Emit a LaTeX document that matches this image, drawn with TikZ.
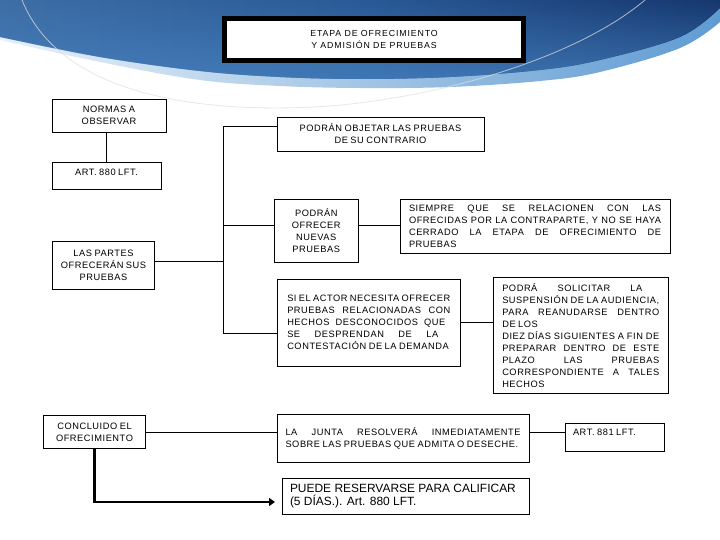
\documentclass[tikz,border=0pt]{standalone}
\usepackage{fontspec}
\setmainfont{Liberation Sans}
\newfontfamily\bodyfont[LetterSpace=6,WordSpace=0.8]{Liberation Sans}
\newfontfamily\titlefont[LetterSpace=10]{Liberation Sans}
\usetikzlibrary{arrows.meta,fadings}
\definecolor{swLeft}{RGB}{62,110,165}
\definecolor{swMid}{RGB}{42,90,150}
\definecolor{swRight}{RGB}{22,55,110}
\definecolor{swLow}{RGB}{72,132,195}
\definecolor{swBand}{RGB}{95,155,210}
\tikzset{
  box/.style={draw=black, line width=0.9bp, fill=white, inner sep=0pt, align=center,
    font=\bodyfont\fontsize{9.3}{12}\selectfont},
  titlebox/.style={draw=black, line width=5bp, fill=white, inner sep=0pt, align=center,
    font=\titlefont\fontsize{8.8}{11.7}\selectfont},
  bigbox/.style={draw=black, line width=0.9bp, fill=white, inner sep=0pt,
    font=\fontsize{12}{12.7}\selectfont},
  conn/.style={draw=black, line width=0.9bp},
  bigarrow/.style={draw=black, line width=2.6bp, -{Triangle[length=6bp,width=8bp]}},
  arcline/.style={draw=white!75!gray, line width=0.8bp, opacity=0.75}
}
\newcommand\jl[1]{\hbox to\hsize{#1}}
\newcommand\jw[2]{\hbox to #1{#2}}
\newcommand\lline[1]{\hbox to\hsize{#1\hfil}}
\newcommand\jbox[2]{\vbox{\hsize=#1\relax #2}}
\begin{document}
\begin{tikzpicture}[x=1bp,y=-1bp]
\useasboundingbox (0,0) rectangle (720,540);
\fill[white] (0,0) rectangle (720,540);
% swoosh: light band
\shade[left color=white!85!swBand, right color=swBand]
  (0,0) -- (720,0) -- plot[smooth,tension=0.6] coordinates {(720,22) (680,48) (600,72) (540,81) (450,87) (360,88) (280,86) (200,80) (100,62) (0,40)} -- cycle;
% swoosh: dark part
\shade[left color=swLeft, right color=swRight, middle color=swMid]
  (0,0) -- (720,0) -- plot[smooth,tension=0.6] coordinates {(720,8) (680,37) (600,60) (540,70) (450,77) (360,79) (280,77) (200,71) (100,57) (0,37)} -- cycle;
\fill[swLow, path fading=north, opacity=0.7]
  (0,0) -- (720,0) -- plot[smooth,tension=0.6] coordinates {(720,8) (680,37) (600,60) (540,70) (450,77) (360,79) (280,77) (200,71) (100,57) (0,37)} -- cycle;
\draw[arcline] (22,0) .. controls (60,95) and (200,115) .. (330,106) .. controls (450,96) and (580,55) .. (645,0);

% nodes
\node[titlebox, minimum width=299bp, minimum height=42bp] (title) at (374,39.5)
  {ETAPA DE OFRECIMIENTO\\Y ADMISIÓN DE PRUEBAS};
\node[box, minimum width=114bp, minimum height=33bp] (normas) at (109,115.5) {NORMAS A\\OBSERVAR};
\node[box, minimum width=109bp, minimum height=27bp] (art880) at (106.5,175.5) {\smash{ART. 880 LFT.}};
\node[box, minimum width=207bp, minimum height=34bp] (objetar) at (380.5,134)
  {PODRÁN OBJETAR LAS PRUEBAS\\DE SU CONTRARIO};
\node[box, minimum width=83.5bp, minimum height=63bp] (ofrecer) at (316.25,230.5)
  {PODRÁN\\OFRECER\\NUEVAS\\PRUEBAS};
\node[box, minimum width=270bp, minimum height=54bp] (siempre) at (535,226)
  {\jbox{252bp}{%
   \jl{SIEMPRE QUE SE RELACIONEN CON LAS}
   \jl{OFRECIDAS POR LA CONTRAPARTE, Y NO SE HAYA}
   \jl{CERRADO LA ETAPA DE OFRECIMIENTO DE}
   \lline{PRUEBAS}}};
\node[box, minimum width=102bp, minimum height=47.5bp] (partes) at (103.5,265.25)
  {LAS PARTES\\OFRECERÁN SUS\\PRUEBAS};
\node[box, minimum width=183.5bp, minimum height=87bp] (actor) at (368.75,322.5)
  {\jbox{163bp}{%
   \jl{SI EL ACTOR NECESITA OFRECER}
   \jl{PRUEBAS RELACIONADAS CON}
   \jw{158bp}{HECHOS DESCONOCIDOS QUE}
   \jw{151bp}{SE DESPRENDAN DE LA}
   \lline{CONTESTACIÓN DE LA DEMANDA}}};
\node[box, minimum width=174.5bp, minimum height=116.5bp] (podra) at (580.75,335.25)
  {\jbox{157bp}{%
   \jw{140bp}{PODRÁ SOLICITAR LA}
   \jl{SUSPENSIÓN DE LA AUDIENCIA,}
   \jl{PARA REANUDARSE DENTRO}
   \lline{DE LOS}
   \jl{DIEZ DÍAS SIGUIENTES A FIN DE}
   \jl{PREPARAR DENTRO DE ESTE}
   \jl{PLAZO LAS PRUEBAS}
   \jl{CORRESPONDIENTE A TALES}
   \lline{HECHOS}}};
\node[box, minimum width=102bp, minimum height=33bp] (concluido) at (94.5,432)
  {CONCLUIDO EL\\OFRECIMIENTO};
\node[box, minimum width=252bp, minimum height=48bp] (junta) at (403,438)
  {\jbox{235bp}{%
   \jl{LA JUNTA RESOLVERÁ INMEDIATAMENTE}
   \lline{SOBRE LAS PRUEBAS QUE ADMITA O DESECHE.}}};
\node[box, minimum width=99bp, minimum height=28bp] (art881) at (614.5,437)
  {\hbox to 99bp{\hspace{8bp}\smash{\raisebox{2bp}{ART. 881 LFT.}}\hfil}};
\node[bigbox, minimum width=247bp, minimum height=36bp] (puede) at (405.5,496)
  {\jbox{231bp}{%
   \lline{PUEDE RESERVARSE PARA CALIFICAR}
   \lline{(5 DÍAS.). Art. 880 LFT.}}};

% connectors
\coordinate (tkTop) at (223.5,126.5);
\coordinate (tkBot) at (223.5,333);
\coordinate (yOf) at (0,225);
\coordinate (yPa) at (0,261.5);
\coordinate (arrTip) at (275,502);
\draw[conn] (art880.north) -- (art880.north |- normas.south);
\draw[conn] (objetar.west |- tkTop) -- (tkTop) -- (tkBot) -- (actor.west |- tkBot);
\draw[conn] (ofrecer.west |- yOf) -- (tkTop |- yOf);
\draw[conn] (ofrecer.east |- yOf) -- (siempre.west |- yOf);
\draw[conn] (partes.east |- yPa) -- (tkTop |- yPa);
\draw[conn] (actor.east) -- (actor.east -| podra.west);
\draw[conn] (concluido.east) -- (concluido.east -| junta.west);
\draw[conn] (concluido.east -| junta.east) -- (concluido.east -| art881.west);
\draw[bigarrow] (concluido.south) |- (arrTip);
\end{tikzpicture}
\end{document}
